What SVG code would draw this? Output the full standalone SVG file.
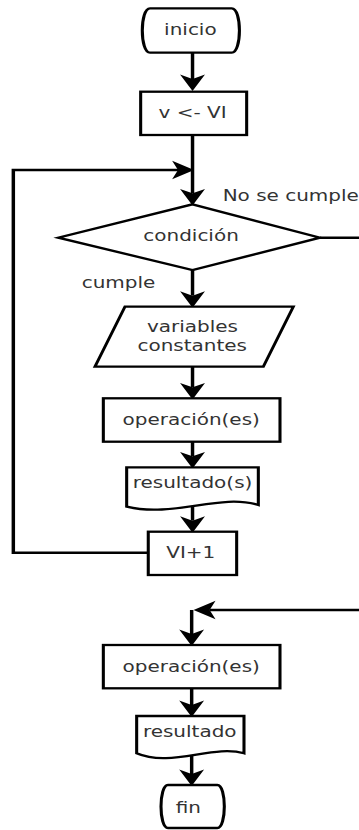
<svg xmlns="http://www.w3.org/2000/svg" width="359" height="830" viewBox="0 0 359 830">
  <defs>
    <marker id="arrow" markerUnits="userSpaceOnUse" orient="auto" markerWidth="22" markerHeight="22" viewBox="-17 -10 18 20" refX="-11" refY="0">
      <path d="M0,0 L-15,-8.5 L-11,0 L-15,8.5 Z" fill="#000"/>
    </marker>
    <style>
      .shape { fill: #fff; stroke: #000; stroke-width: 2.3; }
      .conn { fill: none; stroke: #000; stroke-width: 2.6; }
      .arr { marker-end: url(#arrow); }
      text { font-family: "DejaVu Sans", "Liberation Sans", sans-serif; font-size: 15px; fill: #333; }
      .c { text-anchor: middle; }
    </style>
  </defs>
  <rect width="359" height="830" fill="#fff"/>
  <!-- the chart is drawn in a horizontally stretched space -->
  <g transform="scale(1.3333 1)">
    <g id="connectors">
      <path class="conn arr" d="M144.4,52.7 V79"/>
      <path class="conn arr" d="M144.4,135 V193.3"/>
      <path class="conn arr" d="M111.2,552.7 H10 V170 H133.5"/>
      <path class="conn arr" d="M144.4,270 V295.7"/>
      <path class="conn arr" d="M144.4,366.7 V387.3"/>
      <path class="conn arr" d="M144.4,441.7 V456.3"/>
      <path class="conn arr" d="M144.4,505 V520.7"/>
      <path class="conn arr" d="M240,237.7 H271.6 V610 H157.25"/>
      <path class="conn arr" d="M143.75,610 V634"/>
      <path class="conn arr" d="M143.75,688.3 V705"/>
      <path class="conn arr" d="M143.75,755 V774"/>
    </g>

    <g id="inicio">
      <path class="shape" d="M112.5,8.3 H173.8 C181.5,8.3 181.5,52.7 173.8,52.7 H112.5 C104.8,52.7 104.8,8.3 112.5,8.3 Z"/>
      <text class="c" x="142.8" y="35.5">inicio</text>
    </g>

    <g id="asignacion">
      <rect class="shape" x="105.5" y="91.7" width="79.5" height="43.3"/>
      <text class="c" x="144.4" y="118">v &lt;- VI</text>
    </g>

    <g id="condicion">
      <path class="shape" d="M144.4,204.3 L240,237.7 L144.4,270 L43.7,237.7 Z"/>
      <text class="c" x="143.3" y="241.5">condición</text>
      <text x="167" y="201">No se cumple</text>
      <text x="61.3" y="288">cumple</text>
    </g>

    <g id="entrada">
      <path class="shape" d="M93.75,306.7 H220 L197.5,366.7 H71.25 Z"/>
      <text class="c" x="144.4" y="332">variables</text>
      <text class="c" x="144.2" y="351.5">constantes</text>
    </g>

    <g id="operacion1">
      <rect class="shape" x="77.5" y="398.3" width="132.5" height="43.4"/>
      <text class="c" x="143.4" y="425">operación(es)</text>
    </g>

    <g id="resultados">
      <path class="shape" d="M95,467.3 H193.75 V505 C165,493 130,518 95,506.7 Z"/>
      <text class="c" x="144.4" y="488.3">resultado(s)</text>
    </g>

    <g id="incremento">
      <rect class="shape" x="111.2" y="531.7" width="66.3" height="43.3"/>
      <text class="c" x="143.1" y="558">VI+1</text>
    </g>

    <g id="operacion2">
      <rect class="shape" x="77.5" y="645" width="132.5" height="43.3"/>
      <text class="c" x="143.4" y="671.7">operación(es)</text>
    </g>

    <g id="resultado">
      <path class="shape" d="M102.5,716 H183 V753.3 C160,744 128,768 102.5,753.3 Z"/>
      <text class="c" x="142.3" y="737.3">resultado</text>
    </g>

    <g id="fin">
      <path class="shape" d="M126,785 H163 C170,785 170,828 163,828 H126 C119,828 119,785 126,785 Z"/>
      <text class="c" x="141.2" y="813">fin</text>
    </g>
  </g>
</svg>
